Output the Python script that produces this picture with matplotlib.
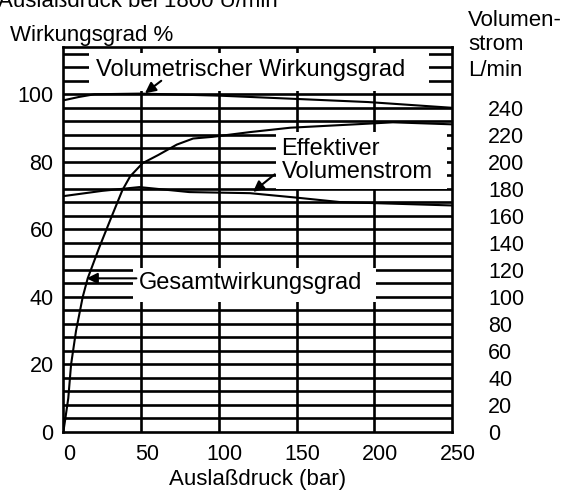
import numpy as np
import matplotlib
matplotlib.use("Agg")
import matplotlib.pyplot as plt
from matplotlib.patches import Rectangle
from matplotlib.transforms import ScaledTranslation

plt.rcParams['font.family'] = ['Liberation Sans', 'DejaVu Sans']

# ---- data ----
druck_vol = [0, 10, 20, 50, 100, 146, 196, 250]
vol_wirkungsgrad = [98.2, 99.2, 100.0, 100.2, 99.6, 98.7, 97.7, 96.0]

druck_ges = [0, 1, 3.2, 5, 8.2, 12.5, 15.7, 23, 31, 38, 43, 51, 61, 73, 83.5, 96, 120, 146, 196, 212, 250]
ges_wirkungsgrad = [0, 3, 10, 20, 30, 40, 45.5, 54.5, 63.7, 71.6, 75.7, 79.6, 82, 85.1, 86.9, 87.4, 88.8, 90.1, 91.3, 91.7, 91.1]

druck_flow = [0, 25, 49, 81, 120, 150, 178, 250]
eff_volumenstrom = [174.6, 178.5, 181.3, 177.6, 176.8, 173.5, 170.2, 167.7]

x_ticks = [0, 50, 100, 150, 200, 250]
y_ticks_left = [0, 20, 40, 60, 80, 100]
y_ticks_right = [0, 20, 40, 60, 80, 100, 120, 140, 160, 180, 200, 220, 240]

Y_TOP = 114.0
FLOW_PER_PCT = 2.5

fig = plt.figure(figsize=(5.7, 4.96), dpi=100)
ax = fig.add_axes([63.3/570, 1-432/496, (452-63.3)/570, (432-47)/496])
ax.set_xlim(0, 250)
ax.set_ylim(0, Y_TOP)

LW = 1.9
for v in np.arange(4, 113, 4):
    ax.axhline(v, color='black', lw=LW, zorder=1)
for xv in x_ticks[1:-1]:
    ax.axvline(xv, color='black', lw=LW, zorder=1)
for s in ax.spines.values():
    s.set_linewidth(LW)
    s.set_zorder(6)

# white label boxes
def box(x0, x1, y0, y1):
    ax.add_patch(Rectangle((x0, y0), x1-x0, y1-y0, facecolor='white',
                           edgecolor='none', zorder=2))

box(16.5, 235, 100.9, 112.3)
box(137, 247, 72.0, 88.8)
box(44.8, 201.4, 38.5, 48.6)

ax.plot(druck_vol, vol_wirkungsgrad, color='black', lw=1.5, zorder=4)
ax.plot(druck_ges, ges_wirkungsgrad, color='black', lw=1.5, zorder=4)
ax.plot(druck_flow, np.array(eff_volumenstrom)/FLOW_PER_PCT, color='black', lw=1.5, zorder=4)

FS = 17
ax.text(120.5, 107.3, 'Volumetrischer Wirkungsgrad', ha='center', va='center', fontsize=FS, zorder=3)
ax.text(140.4, 80.4, 'Effektiver\nVolumenstrom', ha='left', va='center', fontsize=FS,
        linespacing=1.05, zorder=3)
ax.text(120.5, 44.0, 'Gesamtwirkungsgrad', ha='center', va='center', fontsize=FS, zorder=3)

ap = dict(arrowstyle='-|>', color='black', lw=1.5, mutation_scale=16, shrinkA=0, shrinkB=0)
ax.annotate('', xy=(52.5, 100.3), xytext=(63, 104), arrowprops=ap, zorder=5)
ax.annotate('', xy=(122, 71.1), xytext=(136, 76.3), arrowprops=ap, zorder=5)
ax.annotate('', xy=(15, 45.5), xytext=(47, 45.5), arrowprops=ap, zorder=5)

TFS = 15.5
ax.set_xticks(x_ticks)
ax.set_xticklabels([str(v) for v in x_ticks], fontsize=TFS)
ax.set_yticks(y_ticks_left)
ax.set_yticklabels([str(v) for v in y_ticks_left], fontsize=TFS)
ax.tick_params(axis='both', length=0)
ax.tick_params(axis='y', pad=7)
ax.tick_params(axis='x', pad=9)
off = ScaledTranslation(6/100, 0, fig.dpi_scale_trans)
for lbl in ax.get_xticklabels():
    lbl.set_transform(lbl.get_transform() + off)

ax2 = ax.twinx()
ax2.set_ylim(0, Y_TOP*FLOW_PER_PCT)
ax2.set_yticks(y_ticks_right)
ax2.set_yticklabels([str(v) for v in y_ticks_right], fontsize=TFS)
ax2.tick_params(axis='y', length=0, pad=26)
for s in ax2.spines.values():
    s.set_visible(False)

fig.text(258/570, 1-480/496, 'Auslaßdruck (bar)', ha='center', va='center', fontsize=16)
fig.text(10/570, 1-36/496, 'Wirkungsgrad %', ha='left', va='center', fontsize=16)
fig.text(468/570, 1-45/496, 'Volumen-\nstrom\nL/min', ha='left', va='center', fontsize=16,
         linespacing=1.25)
fig.text(278/570, 1-7/496, 'Auslaßdruck bei 1800 U/min', ha='right', va='baseline', fontsize=16)

fig.savefig('out.png', dpi=100)
